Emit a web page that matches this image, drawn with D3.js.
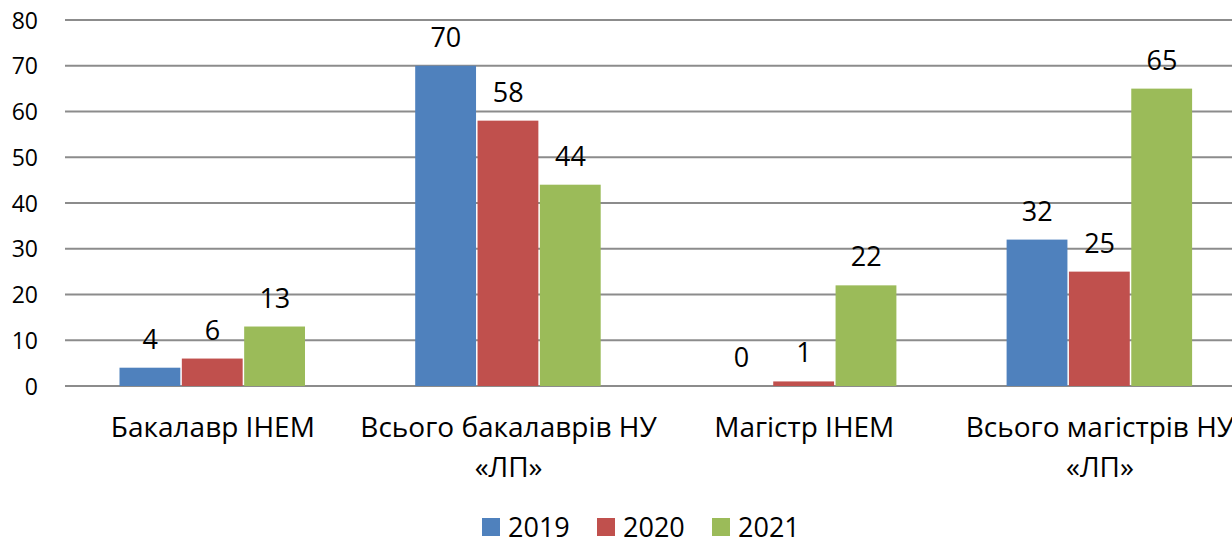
<!DOCTYPE html>
<html>
<head>
<meta charset="utf-8">
<script src="https://cdn.jsdelivr.net/npm/d3@7"></script>
<style>
  body { margin: 0; background: #fff; overflow: hidden; }
  text { font-family: "Open Sans", "Noto Sans", sans-serif; fill: #000; }
</style>
</head>
<body>
<div class="canvas"></div>
<script>
// chart data
const categories = ['Бакалавр ІНЕМ', 'Всього бакалаврів НУ «ЛП»', 'Магістр ІНЕМ', 'Всього магістрів НУ «ЛП»'];
const seriesNames = ['2019', '2020', '2021'];
const values2019 = [4, 70, 0, 32];
const values2020 = [6, 58, 1, 25];
const values2021 = [13, 44, 22, 65];
const yTicks = [0, 10, 20, 30, 40, 50, 60, 70, 80];
const colors = ['#4f81bd', '#c0504d', '#9bbb59'];

const seriesValues = [values2019, values2020, values2021];

const width = 1232;
const height = 540;
const margin = {top: 20, left: 65, bottom: 386};

const svg = d3.select('.canvas')
  .append('svg')
  .attr('width', width)
  .attr('height', height);

const x0 = d3.scaleBand()
  .domain(categories)
  .range([margin.left, margin.left + 4 * 295.7]);

const x1 = d3.scaleBand()
  .domain(seriesNames)
  .range([54, 54 + 187]);

const y = d3.scaleLinear()
  .domain([0, 80])
  .range([margin.bottom, margin.top]);

// gridlines
svg.append('g')
  .selectAll('line')
  .data(yTicks)
  .enter().append('line')
  .attr('x1', margin.left)
  .attr('x2', width)
  .attr('y1', d => y(d))
  .attr('y2', d => y(d))
  .attr('stroke', '#8c8c8c')
  .attr('stroke-width', 2);

// y axis labels
const yAxis = svg.append('g')
  .attr('transform', `translate(${margin.left}, 0)`)
  .call(d3.axisLeft(y).tickValues(yTicks).tickSize(0).tickPadding(27));
yAxis.select('.domain').remove();
yAxis.selectAll('text')
  .style('font-family', '"Open Sans", sans-serif')
  .style('font-size', '23px')
  .attr('dy', '0.35em');

// bars
const rows = categories.map((c, i) => ({
  name: c,
  vals: seriesNames.map((s, j) => ({key: s, value: seriesValues[j][i], color: colors[j]}))
}));

const group = svg.append('g')
  .selectAll('g')
  .data(rows)
  .enter().append('g')
  .attr('transform', d => `translate(${x0(d.name)}, 0)`);

group.selectAll('rect')
  .data(d => d.vals)
  .enter().append('rect')
  .attr('x', d => x1(d.key) + 0.5)
  .attr('width', x1.bandwidth() - 1.5)
  .attr('y', d => y(d.value))
  .attr('height', d => y(0) - y(d.value))
  .attr('fill', d => d.color);

group.selectAll('text.value')
  .data(d => d.vals)
  .enter().append('text')
  .attr('class', 'value')
  .attr('x', d => x1(d.key) + x1.bandwidth() / 2)
  .attr('y', d => y(d.value) - 19)
  .attr('text-anchor', 'middle')
  .style('font-size', '27px')
  .text(d => d.value);

// category labels, wrapped
const catLabels = svg.append('g')
  .selectAll('text')
  .data(categories)
  .enter().append('text')
  .attr('x', d => x0(d) + x0.bandwidth() / 2)
  .attr('y', 437)
  .attr('text-anchor', 'middle')
  .style('font-size', '28px');

catLabels.each(function(d) {
  const el = d3.select(this);
  const words = d.split(' ');
  let line = [];
  let tspan = el.append('tspan').attr('x', x0(d) + x0.bandwidth() / 2).attr('dy', 0);
  words.forEach(w => {
    line.push(w);
    tspan.text(line.join(' '));
    if (tspan.node().getComputedTextLength() > 330 && line.length > 1) {
      line.pop();
      tspan.text(line.join(' '));
      line = [w];
      tspan = el.append('tspan')
        .attr('x', x0(d) + x0.bandwidth() / 2)
        .attr('dy', 40)
        .text(w);
    }
  });
});

// legend
const legendX = [482, 597, 712];
const legend = svg.append('g')
  .selectAll('g')
  .data(seriesNames)
  .enter().append('g')
  .attr('transform', (d, i) => `translate(${legendX[i]}, 518)`);

legend.append('rect')
  .attr('width', 18)
  .attr('height', 18)
  .attr('fill', (d, i) => colors[i]);

legend.append('text')
  .attr('x', 26)
  .attr('y', 19)
  .style('font-size', '27px')
  .text(d => d);
</script>
</body>
</html>
